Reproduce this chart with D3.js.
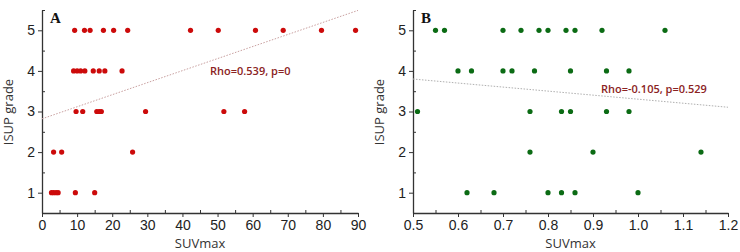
<!DOCTYPE html>
<html>
<head>
<meta charset="utf-8">
<script src="https://cdn.jsdelivr.net/npm/d3@7"></script>
<style>
  body { margin: 0; background: #fff; }
  svg { display: block; font-family: 'Open Sans', sans-serif; }
</style>
</head>
<body>
<div id="chart"></div>
<script>
const W = 740, H = 252

// panel A: SUVmax vs ISUP grade
const suvA = [
  9.3, 12.1, 13.7, 17.5, 20.4, 24.4, 42.3, 50.2, 60.8, 68.7, 79.6, 89.3,
  9.0, 10.0, 11.0, 12.2, 14.6, 16.3, 17.9, 22.8,
  9.7, 11.6, 15.6, 16.3, 16.9, 29.5, 51.8, 57.7,
  3.3, 5.6, 25.8,
  2.7, 3.3, 4.0, 4.6, 9.5, 15.0
]
const gradeA = [
  5, 5, 5, 5, 5, 5, 5, 5, 5, 5, 5, 5,
  4, 4, 4, 4, 4, 4, 4, 4,
  3, 3, 3, 3, 3, 3, 3, 3,
  2, 2, 2,
  1, 1, 1, 1, 1, 1
]
const fitA = [[0, 2.82], [90, 5.49]]

// panel B
const suvB = [
  0.55, 0.57, 0.70, 0.74, 0.78, 0.80, 0.84, 0.86, 0.92, 1.06,
  0.60, 0.63, 0.70, 0.72, 0.77, 0.85, 0.93, 0.98,
  0.51, 0.76, 0.83, 0.85, 0.93, 0.98,
  0.76, 0.90, 1.14,
  0.62, 0.68, 0.80, 0.83, 0.86, 1.00
]
const gradeB = [
  5, 5, 5, 5, 5, 5, 5, 5, 5, 5,
  4, 4, 4, 4, 4, 4, 4, 4,
  3, 3, 3, 3, 3, 3,
  2, 2, 2,
  1, 1, 1, 1, 1, 1
]
const fitB = [[0.5, 3.80], [1.2, 3.105]]

const gradeTicks = [1, 2, 3, 4, 5]

const svg = d3.select('#chart').append('svg').attr('width', W).attr('height', H)

function panel({ x0, x1, xDomain, xTicks, xMinor, fmt, xs, ys, fit, color, fitColor, label, note, noteX, noteY }) {
  const x = d3.scaleLinear().domain(xDomain).range([x0, x1])
  const y = d3.scaleLinear().domain([0.5, 5.5]).range([213, 10])
  const g = svg.append('g')

  // minor ticks
  g.append('g').attr('transform', 'translate(0,213)')
    .call(d3.axisTop(x).tickValues(xMinor).tickSize(3).tickFormat(''))
    .call(a => a.select('.domain').remove())
  g.append('g').attr('transform', `translate(${x0},0)`)
    .call(d3.axisRight(y).tickValues([1.5, 2.5, 3.5, 4.5, 5.5]).tickSize(3).tickFormat(''))
    .call(a => a.select('.domain').remove())

  const xa = g.append('g').attr('transform', 'translate(0,213)')
    .call(d3.axisBottom(x).tickValues(xTicks).tickSize(4).tickSizeOuter(0).tickFormat(fmt))
  const ya = g.append('g').attr('transform', `translate(${x0},0)`)
    .call(d3.axisLeft(y).tickValues(gradeTicks).tickSize(4).tickSizeOuter(0).tickFormat(d3.format('d')))
  ;[xa, ya].forEach(a => {
    a.select('.domain').attr('stroke', '#333').attr('stroke-width', 1.3)
    a.selectAll('text').attr('fill', '#222').style('font-size', '14px')
  })
  g.selectAll('.tick line').attr('stroke', '#333')

  g.append('text').attr('x', (x0 + x1) / 2).attr('y', 248)
    .attr('text-anchor', 'middle').attr('fill', '#333').style('font-size', '13px').text('SUVmax')
  g.append('text').attr('transform', 'rotate(-90)').attr('x', -112).attr('y', x0 - 29)
    .attr('text-anchor', 'middle').attr('fill', '#333').style('font-size', '13px').text('ISUP grade')

  g.append('line')
    .attr('x1', x(fit[0][0])).attr('y1', y(fit[0][1]))
    .attr('x2', x(fit[1][0])).attr('y2', y(fit[1][1]))
    .attr('stroke', fitColor).attr('stroke-width', 1).attr('stroke-dasharray', '1.5 1.5')

  g.selectAll('circle').data(xs).join('circle')
    .attr('cx', d => x(d)).attr('cy', (d, i) => y(ys[i]))
    .attr('r', 2.6).attr('fill', color)

  g.append('text').attr('x', x0 + 8).attr('y', 23)
    .style('font-family', "'Liberation Serif', serif").style('font-weight', 'bold')
    .style('font-size', '15px').attr('fill', '#111').text(label)

  g.append('text').attr('x', noteX).attr('y', noteY)
    .attr('fill', '#8b2323').style('font-size', '11px').style('font-weight', '600').text(note)
}

panel({
  x0: 42, x1: 358, xDomain: [0, 90], xTicks: d3.range(0, 91, 10), xMinor: d3.range(5, 90, 10),
  fmt: d3.format('d'), xs: suvA, ys: gradeA, fit: fitA, color: '#cc0a0a', fitColor: '#c9a0a0',
  label: 'A', note: 'Rho=0.539, p=0', noteX: 210, noteY: 75
})
panel({
  x0: 413, x1: 728, xDomain: [0.5, 1.2], xTicks: d3.range(0.5, 1.21, 0.1), xMinor: d3.range(0.55, 1.2, 0.1),
  fmt: d3.format('.1f'), xs: suvB, ys: gradeB, fit: fitB, color: '#0b6b14', fitColor: '#b0b0b0',
  label: 'B', note: 'Rho=-0.105, p=0.529', noteX: 601, noteY: 93
})
</script>
</body>
</html>
